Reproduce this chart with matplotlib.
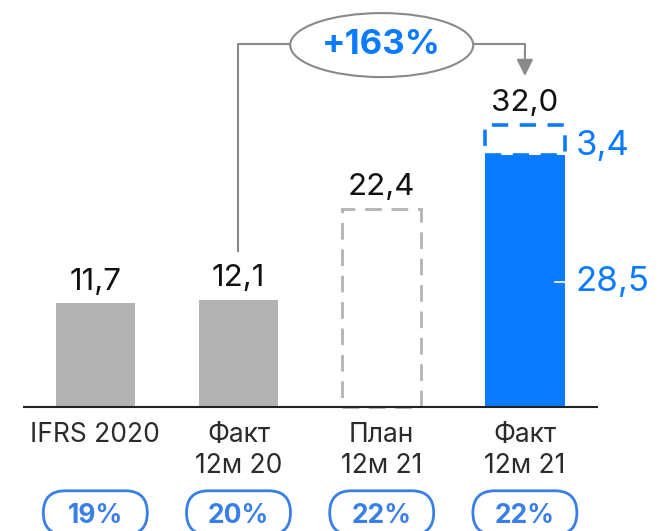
import matplotlib
matplotlib.use("Agg")
import matplotlib.pyplot as plt
from matplotlib.patches import Ellipse, FancyBboxPatch
from matplotlib.transforms import ScaledTranslation

# data
categories = ["IFRS 2020", "Факт\n12м 20", "План\n12м 21", "Факт\n12м 21"]
totals = [11.7, 12.1, 22.4, 32.0]
value_labels = ["11,7", "12,1", "22,4", "32,0"]
fact_base = 28.5
fact_extra = 3.4
margins = ["19%", "20%", "22%", "22%"]
growth_label = "+163%"

GREY = "#b3b3b3"
BLUE = "#0a7bff"
PILL = "#3a7ee8"
LINE = "#8a8a8a"

plt.rcParams["font.family"] = ["Inter", "DejaVu Sans"]

fig = plt.figure(figsize=(6.59, 5.31), dpi=100)
ax = fig.add_axes([0, 0, 1, 1])
ax.set_xlim(-0.6655, 3.9365)
ax.set_ylim(-14.06, 46.0)
ax.axis("off")

x = list(range(len(categories)))
w = 0.555

# bars
ax.bar(x[:2], totals[:2], width=w, color=GREY, zorder=2)
ax.bar(x[2], totals[2], width=w, fill=False, edgecolor=GREY, lw=2,
       linestyle=(0, (6, 3.5)), zorder=2)
ax.bar(x[3], fact_base, width=w, color=BLUE, zorder=2)
ax.bar(x[3], fact_extra, bottom=fact_base, width=w, fill=False, edgecolor=BLUE,
       lw=2.6, linestyle=(0, (4.5, 3.2)), zorder=3)

# baseline
ax.plot([-0.498, 3.503], [0, 0], color="#222222", lw=1.5, zorder=4)

# value labels
for xi, v, lab in zip(x, totals, value_labels):
    ax.text(xi, v + 1.5, lab, ha="center", va="baseline", fontsize=22.5, color="#111111")

# split of the fact bar
ax.text(x[3] + w / 2 + 0.077, fact_base - 0.05, "3,4", ha="left", va="baseline",
        fontsize=25, color=BLUE)
ax.text(x[3] + w / 2 + 0.077, fact_base / 2 - 1.2, "28,5", ha="left", va="baseline",
        fontsize=25, color=BLUE)
ax.plot([x[3] + w / 2 - 0.07, x[3] + w / 2], [fact_base / 2 - 0.1] * 2, color="white",
        lw=1.2, zorder=5)

# category labels
for xi, cat in zip(x, categories):
    for k, line in enumerate(cat.split("\n")):
        ax.text(xi, -3.96 - k * 3.57, line, ha="center", va="baseline",
                fontsize=19, color="#2b2b2b")

# margin pills
for xi, m in zip(x, margins):
    tr = fig.dpi_scale_trans + ScaledTranslation(xi, -12.0, ax.transData)
    pill = FancyBboxPatch((-0.52, -0.22), 1.04, 0.44,
                          boxstyle="round,pad=0,rounding_size=0.22",
                          fc="white", ec=PILL, lw=2.0, transform=tr, zorder=5)
    ax.add_patch(pill)
    ax.text(xi, -13.1, m, ha="center", va="baseline", fontsize=19,
            fontweight="bold", color=PILL, zorder=6)

# growth arrow
y_top = 41.0
ax.plot([x[1], x[1], x[3], x[3]], [totals[1] + 5.5, y_top, y_top, y_top - 1.0],
        color=LINE, lw=1.5, zorder=3)
ax.annotate("", xy=(x[3], totals[3] + 5.4), xytext=(x[3], y_top - 0.8),
            arrowprops=dict(arrowstyle="-|>,head_length=0.5,head_width=0.25",
                            mutation_scale=20, color=LINE, lw=1.5, shrinkA=0, shrinkB=0),
            zorder=3)
mid = (x[1] + x[3]) / 2
tr = fig.dpi_scale_trans + ScaledTranslation(mid, y_top - 0.1, ax.transData)
ax.add_patch(Ellipse((0, 0), 1.83, 0.64, fc="white", ec=LINE, lw=1.5,
                     transform=tr, zorder=6))
ax.text(mid, y_top - 0.1, growth_label, ha="center", va="center", fontsize=25,
        fontweight="bold", color=BLUE, zorder=7)

fig.savefig("out.png", dpi=100)
